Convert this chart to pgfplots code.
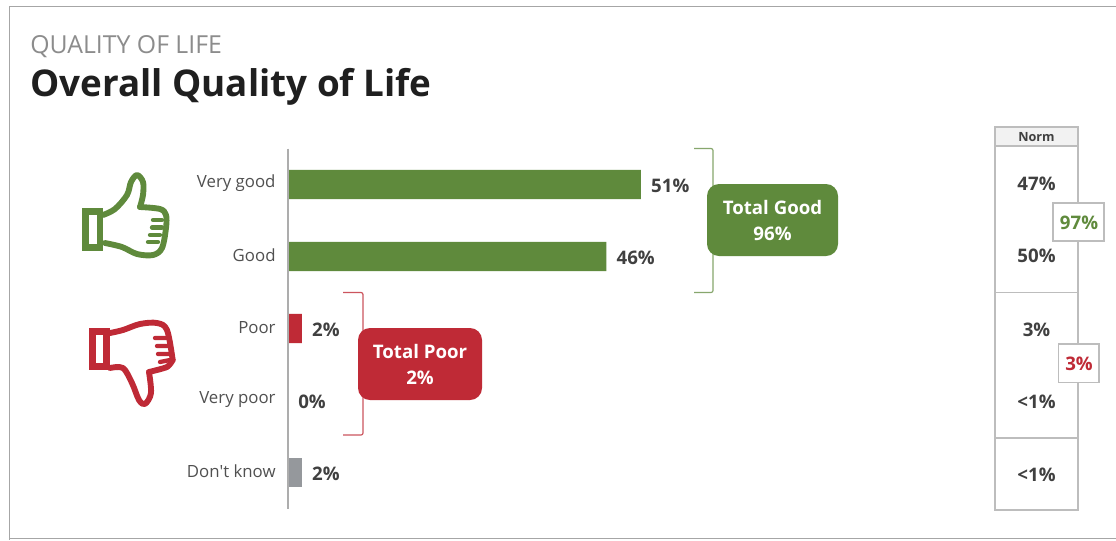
\documentclass[border=0pt]{standalone}
\usepackage{pgfplots}
\pgfplotsset{compat=1.18}
\usepackage{fontspec}
\setmainfont{Open Sans}[Ligatures=TeXOff]
\definecolor{goodgreen}{HTML}{5F8A3C}
\definecolor{poorred}{HTML}{BF2A36}
\definecolor{dkgray}{HTML}{95989C}
\definecolor{labelgray}{HTML}{505050}
\definecolor{valgray}{HTML}{404040}
\definecolor{rulegray}{HTML}{BDBDBD}
\pgfplotsset{
  valuebars/.style={xbar,bar width=22pt,draw=none,bar shift=0pt,
    nodes near coords={\pgfmathprintnumber[assume math mode=true]{\pgfplotspointmeta}\%},point meta=x,
    nodes near coords align={horizontal},
    every node near coord/.append style={font=\fontsize{14}{15}\selectfont\bfseries,text=valgray,xshift=4.2pt,yshift=-1.2pt}}
}
\begin{document}
\begin{tikzpicture}[x=0.75pt,y=-0.75pt,
  val/.style={font=\fontsize{14}{15}\selectfont\bfseries,text=valgray,anchor=center,inner sep=0pt},
  totalbox/.style={rounded corners=9pt,draw=none},
  totaltext/.style={font=\fontsize{14}{19.5}\selectfont\bfseries,text=white,align=center,inner sep=0pt}]
% page extent and slide frame
\path[use as bounding box] (0,0) rectangle (1116,540);
\fill[white] (0,0) rectangle (1116,540);
\draw[line width=1pt,draw=black!35] (1116,6.5) -- (9.5,6.5) -- (9.5,540);
\draw[line width=1.4pt,draw=black!35] (9.5,538.5) -- (1116,538.5);
% headings
\node[anchor=base west,inner sep=0pt,text=black!45,font=\fontsize{18.6}{20}\selectfont] at (30,53) {QUALITY OF LIFE};
\node[anchor=base west,inner sep=0pt,text=black!88,font=\fontsize{27.6}{30}\selectfont\bfseries] at (30,96.5) {Overall Quality of Life};
% bar chart
\begin{axis}[
  at={(216pt,-111.4pt)},anchor=north west,
  scale only axis,width=519pt,height=270pt,
  xmin=0,xmax=100,ymin=-0.5,ymax=4.5,y dir=reverse,
  axis on top,
  axis x line=none,
  axis y line*=left,
  axis line style={draw=black!32,line width=1pt},
  y axis line style={-},
  ytick={0,1,2,3,4},
  yticklabels={Very good,Good,Poor,Very poor,Don't know},
  major tick length=0pt,
  yticklabel style={font=\fontsize{12.6}{14}\selectfont,text=labelgray,xshift=-5.8pt,yshift=0.8pt},
  clip=false,
]
\addplot[valuebars,fill=goodgreen] coordinates {(51,0) (46,1)};
\addplot[valuebars,fill=poorred] coordinates {(2,2) (0,3)};
\addplot[valuebars,fill=dkgray] coordinates {(2,4)};
\end{axis}
% group brackets
\draw[goodgreen!75,line width=0.9pt,rounded corners=1.5pt] (694,148.5) -- (713,148.5) -- (713,292.5) -- (694,292.5);
\draw[poorred!80,line width=0.9pt,rounded corners=1.5pt] (343,292.5) -- (363,292.5) -- (363,435) -- (343,435);
% group totals
\fill[goodgreen,totalbox] (707,184) rectangle (838,256);
\node[totaltext] at (772.5,220) {Total Good\\96\%};
\fill[poorred,totalbox] (358,328) rectangle (482,400);
\node[totaltext] at (420,364) {Total Poor\\2\%};
% thumbs up
\begin{scope}[goodgreen,line width=4.4pt,line join=round,line cap=round]
  \draw[line cap=butt,line join=miter,line width=5.2pt] (85.3,211.5) rectangle (100,247.5);
  \draw plot[smooth,tension=0.55] coordinates {(103,215) (115,209) (127,195) (131,182) (137,175) (143,182) (143,195) (140,207)};
  \draw plot[smooth,tension=0.55] coordinates {(140,207) (160,209) (166,215) (166,228) (162,248) (153,255) (137,254) (122,247) (105,243)};
  \draw[line width=3.2pt] (153,220) -- (162,220) (152,227.5) -- (162,227.5) (150,235) -- (160,235) (148,242) -- (158,242);
\end{scope}
% thumbs down
\begin{scope}[poorred,line width=4.4pt,line join=round,line cap=round]
  \draw[line cap=butt,line join=miter,line width=5.2pt] (92.6,331.5) rectangle (106.7,366.5);
  \draw plot[smooth,tension=0.55] coordinates {(110,333) (123,330) (140,324) (157,323) (167,330) (172.7,360)};
  \draw plot[smooth,tension=0.4] coordinates {(172.7,360) (167,367) (149,372)};
  \draw plot[smooth,tension=0.55] coordinates {(149,372) (151,393) (145,404) (139,400) (132,383) (123,368) (110,368)};
  \draw[line width=3.2pt] (155,338) -- (166,338) (157,346) -- (168,346) (158,354) -- (170,354) (160,362) -- (170,360);
\end{scope}
% norm column
\fill[black!5] (995,127) rectangle (1078,146);
\draw[rulegray,line width=1pt] (995,127) rectangle (1078,510);
\draw[rulegray,line width=0.8pt] (995,146) -- (1078,146) (995,292.5) -- (1078,292.5) (995,438) -- (1078,438);
\node[font=\fontsize{9.5}{11}\selectfont\bfseries,text=valgray,inner sep=0pt] at (1036.5,137) {Norm};
\node[val] at (1036.5,184) {47\%};
\node[val] at (1036.5,256) {50\%};
\node[val] at (1036.5,330) {3\%};
\node[val] at (1036.5,402) {<1\%};
\node[val] at (1036.5,475) {<1\%};
\fill[white] (1053,203) rectangle (1104,241);
\draw[rulegray,line width=0.8pt] (1053,203) rectangle (1104,241);
\node[val,text=goodgreen] at (1079,223) {97\%};
\fill[white] (1058.5,344) rectangle (1099,382.5);
\draw[rulegray,line width=0.8pt] (1058.5,344) rectangle (1099,382.5);
\node[val,text=poorred] at (1079,364) {3\%};
\end{tikzpicture}
\end{document}
